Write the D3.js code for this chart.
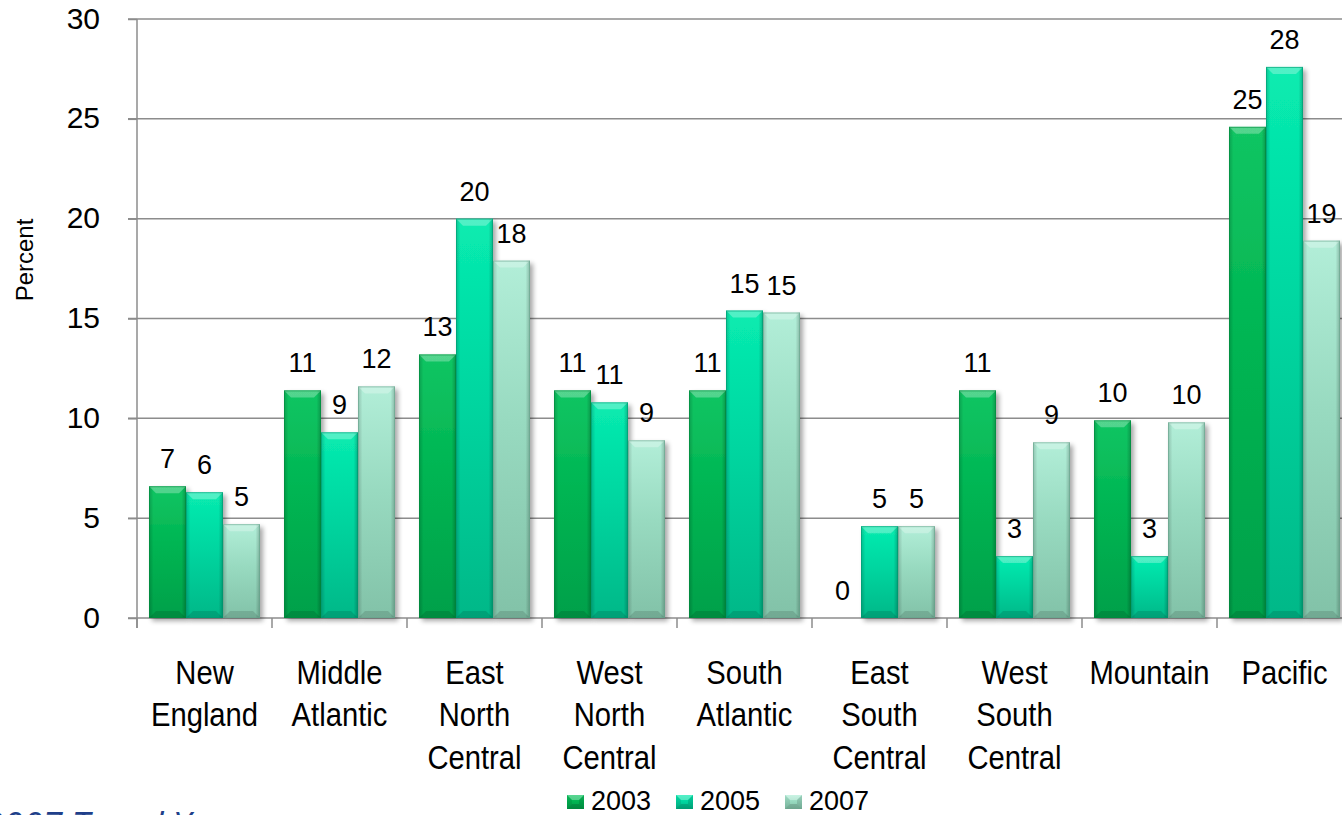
<!DOCTYPE html>
<html><head><meta charset="utf-8">
<script src="https://cdn.jsdelivr.net/npm/d3@7"></script>
<style>
html,body{margin:0;padding:0;background:#fff;overflow:hidden}
svg{display:block}
</style></head>
<body>
<svg id="chart" width="1342" height="815"></svg>
<script>
const categories = ["New England","Middle Atlantic","East North Central","West North Central","South Atlantic","East South Central","West South Central","Mountain","Pacific"];
const categoryLines = [["New","England"],["Middle","Atlantic"],["East","North","Central"],["West","North","Central"],["South","Atlantic"],["East","South","Central"],["West","South","Central"],["Mountain"],["Pacific"]];
const seriesNames = ["2003","2005","2007"];
const values2003 = [6.6, 11.4, 13.2, 11.4, 11.4, 0, 11.4, 9.9, 24.6];
const values2005 = [6.3, 9.3, 20.0, 10.8, 15.4, 4.6, 3.1, 3.1, 27.6];
const values2007 = [4.7, 11.6, 17.9, 8.9, 15.3, 4.6, 8.8, 9.8, 18.9];
const yTicks = [0,5,10,15,20,25,30];
const footnote = "2003\u20132007 Trend Years";

const seriesValues = [values2003, values2005, values2007];
const colors = [
  {top:"#12c563", mid:"#00b552", bot:"#00a04a", edge:"#008a3e"},
  {top:"#08ecb0", mid:"#00d6a0", bot:"#00b888", edge:"#009a72"},
  {top:"#b2eed8", mid:"#98dac0", bot:"#82c2a8", edge:"#67a38c"}
];

const svg = d3.select("#chart");
const y = d3.scaleLinear().domain([0,30]).range([618,19]);
const x0 = d3.scaleBand().domain(categories).range([137,1352]).padding(0);
const x1 = d3.scaleBand().domain(seriesNames).range([12,123]).padding(0);
const defs = svg.append("defs");

const f = defs.append("filter").attr("id","shadow").attr("x","-20%").attr("y","-10%").attr("width","150%").attr("height","130%");
f.append("feGaussianBlur").attr("in","SourceAlpha").attr("stdDeviation",2.5).attr("result","b");
f.append("feOffset").attr("in","b").attr("dx",3).attr("dy",3).attr("result","o");
f.append("feComponentTransfer").attr("in","o").attr("result","o2").append("feFuncA").attr("type","linear").attr("slope",0.35);
const fm = f.append("feMerge"); fm.append("feMergeNode").attr("in","o2"); fm.append("feMergeNode").attr("in","SourceGraphic");

colors.forEach((c,i)=>{
  const g = defs.append("linearGradient").attr("id","vg"+i).attr("x1",0).attr("y1",0).attr("x2",0).attr("y2",1);
  g.append("stop").attr("offset","0%").attr("stop-color",c.top);
  g.append("stop").attr("offset","45%").attr("stop-color",c.mid);
  g.append("stop").attr("offset","100%").attr("stop-color",c.bot);
});
const hg = defs.append("linearGradient").attr("id","hg").attr("x1",0).attr("y1",0).attr("x2",1).attr("y2",0);
hg.append("stop").attr("offset","0%").attr("stop-color","#000").attr("stop-opacity",0.18);
hg.append("stop").attr("offset","12%").attr("stop-color","#000").attr("stop-opacity",0.0);
hg.append("stop").attr("offset","88%").attr("stop-color","#000").attr("stop-opacity",0.0);
hg.append("stop").attr("offset","100%").attr("stop-color","#000").attr("stop-opacity",0.22);

const gridColor = "#8c8c8c";
svg.append("g").selectAll("line").data(yTicks.filter(d=>d>0)).join("line")
  .attr("x1",128).attr("x2",1342).attr("y1",d=>y(d)).attr("y2",d=>y(d))
  .attr("stroke",gridColor).attr("stroke-width",1.5);

const yAxis = svg.append("g").attr("transform","translate(137,0)")
  .call(d3.axisLeft(y).tickValues(yTicks).tickSize(9).tickPadding(28).tickFormat(d3.format("d")));
yAxis.select(".domain").remove();
yAxis.selectAll(".tick line").attr("stroke",gridColor).attr("stroke-width",1.5);
yAxis.selectAll(".tick text").attr("font-family","'Liberation Sans', Arial, sans-serif").attr("font-size",30).attr("fill","#000").attr("dy","0.3em");
svg.append("line").attr("x1",137).attr("x2",137).attr("y1",y(30)).attr("y2",628).attr("stroke",gridColor).attr("stroke-width",1.5);

svg.append("line").attr("x1",128).attr("x2",1342).attr("y1",y(0)).attr("y2",y(0)).attr("stroke",gridColor).attr("stroke-width",1.5);
const bounds = categories.map(c=>x0(c)).concat([x0(categories[categories.length-1])+x0.bandwidth()]);
svg.append("g").selectAll("line").data(bounds).join("line")
  .attr("x1",d=>d).attr("x2",d=>d).attr("y1",y(0)).attr("y2",y(0)+10)
  .attr("stroke",gridColor).attr("stroke-width",1.5);

const bw = x1.bandwidth();
const bevel = 7;
const groups = svg.append("g").selectAll("g").data(categories).join("g")
  .attr("transform",c=>`translate(${x0(c)},0)`);
seriesNames.forEach((s,si)=>{
  groups.each(function(c,ci){
    const v = seriesValues[si][ci];
    if (v <= 0) return;
    const g = d3.select(this).append("g");
    const x = x1(s), top = y(v), bot = y(0), h = bot-top;
    const b = Math.min(bevel, h/3);
    g.append("rect").attr("x",x).attr("y",top).attr("width",bw).attr("height",h)
      .attr("fill",`url(#vg${si})`).attr("filter","url(#shadow)");
    g.append("rect").attr("x",x).attr("y",top).attr("width",bw).attr("height",h).attr("fill","url(#hg)");
    g.append("path").attr("d",`M${x},${top}L${x+bw},${top}L${x+bw-b},${top+b}L${x+b},${top+b}Z`)
      .attr("fill","#fff").attr("fill-opacity",0.28);
    g.append("path").attr("d",`M${x},${bot}L${x+bw},${bot}L${x+bw-b},${bot-b}L${x+b},${bot-b}Z`)
      .attr("fill","#000").attr("fill-opacity",0.12);
    g.append("rect").attr("x",x+0.5).attr("y",top+0.5).attr("width",bw-1).attr("height",h-1)
      .attr("fill","none").attr("stroke",colors[si].edge).attr("stroke-opacity",0.6).attr("stroke-width",1);
  });
});

seriesNames.forEach((s,si)=>{
  groups.append("text")
    .attr("x",c=>x1(s)+bw/2)
    .attr("y",(c,ci)=>y(seriesValues[si][ci])-18)
    .attr("text-anchor","middle")
    .attr("font-family","'Liberation Sans', Arial, sans-serif").attr("font-size",27).attr("fill","#000")
    .text((c,ci)=>d3.format(".0f")(seriesValues[si][ci]));
});

const catText = svg.append("g").selectAll("text").data(categories).join("text")
  .attr("transform",c=>`translate(${x0(c)+x0.bandwidth()/2},684) scale(0.86,1)`)
  .attr("text-anchor","middle")
  .attr("font-family","'Liberation Sans', Arial, sans-serif")
  .attr("font-size",34).attr("fill","#000");
catText.each(function(c,ci){
  d3.select(this).selectAll("tspan").data(categoryLines[ci]).join("tspan")
    .attr("x",0).attr("dy",(d,i)=>i===0?0:42.5).text(d=>d);
});

svg.append("text").attr("transform","translate(33,260) rotate(-90)")
  .attr("text-anchor","middle").attr("font-family","'Liberation Sans', Arial, sans-serif")
  .attr("font-size",24).attr("fill","#000").text("Percent");

const legendX = [567, 676, 785];
const lg = svg.append("g").selectAll("g").data(seriesNames).join("g")
  .attr("transform",(d,i)=>`translate(${legendX[i]},795)`);
lg.append("rect").attr("width",17).attr("height",14).attr("fill",(d,i)=>`url(#vg${i})`);
lg.append("path").attr("d","M0,0L17,0L12,5L5,5Z").attr("fill","#fff").attr("fill-opacity",0.3);
lg.append("path").attr("d","M0,14L17,14L12,9L5,9Z").attr("fill","#000").attr("fill-opacity",0.15);
lg.append("path").attr("d","M0,0L5,5L5,9L0,14Z").attr("fill","#000").attr("fill-opacity",0.08);
lg.append("path").attr("d","M17,0L12,5L12,9L17,14Z").attr("fill","#000").attr("fill-opacity",0.12);
lg.append("text").attr("x",24).attr("y",15).attr("font-family","'Liberation Sans', Arial, sans-serif")
  .attr("font-size",27).attr("fill","#000").text(d=>d);

// footnote, clipped at the bottom edge as in the reference
const fn = svg.append("text").attr("y",838).attr("font-family","'Open Sans','Noto Sans',sans-serif")
  .attr("font-style","italic").attr("font-size",36).attr("fill","#203f8a").text(footnote);
const pre = fn.node().getSubStringLength(0,6);
fn.attr("x",3-pre);
</script>
</body></html>
